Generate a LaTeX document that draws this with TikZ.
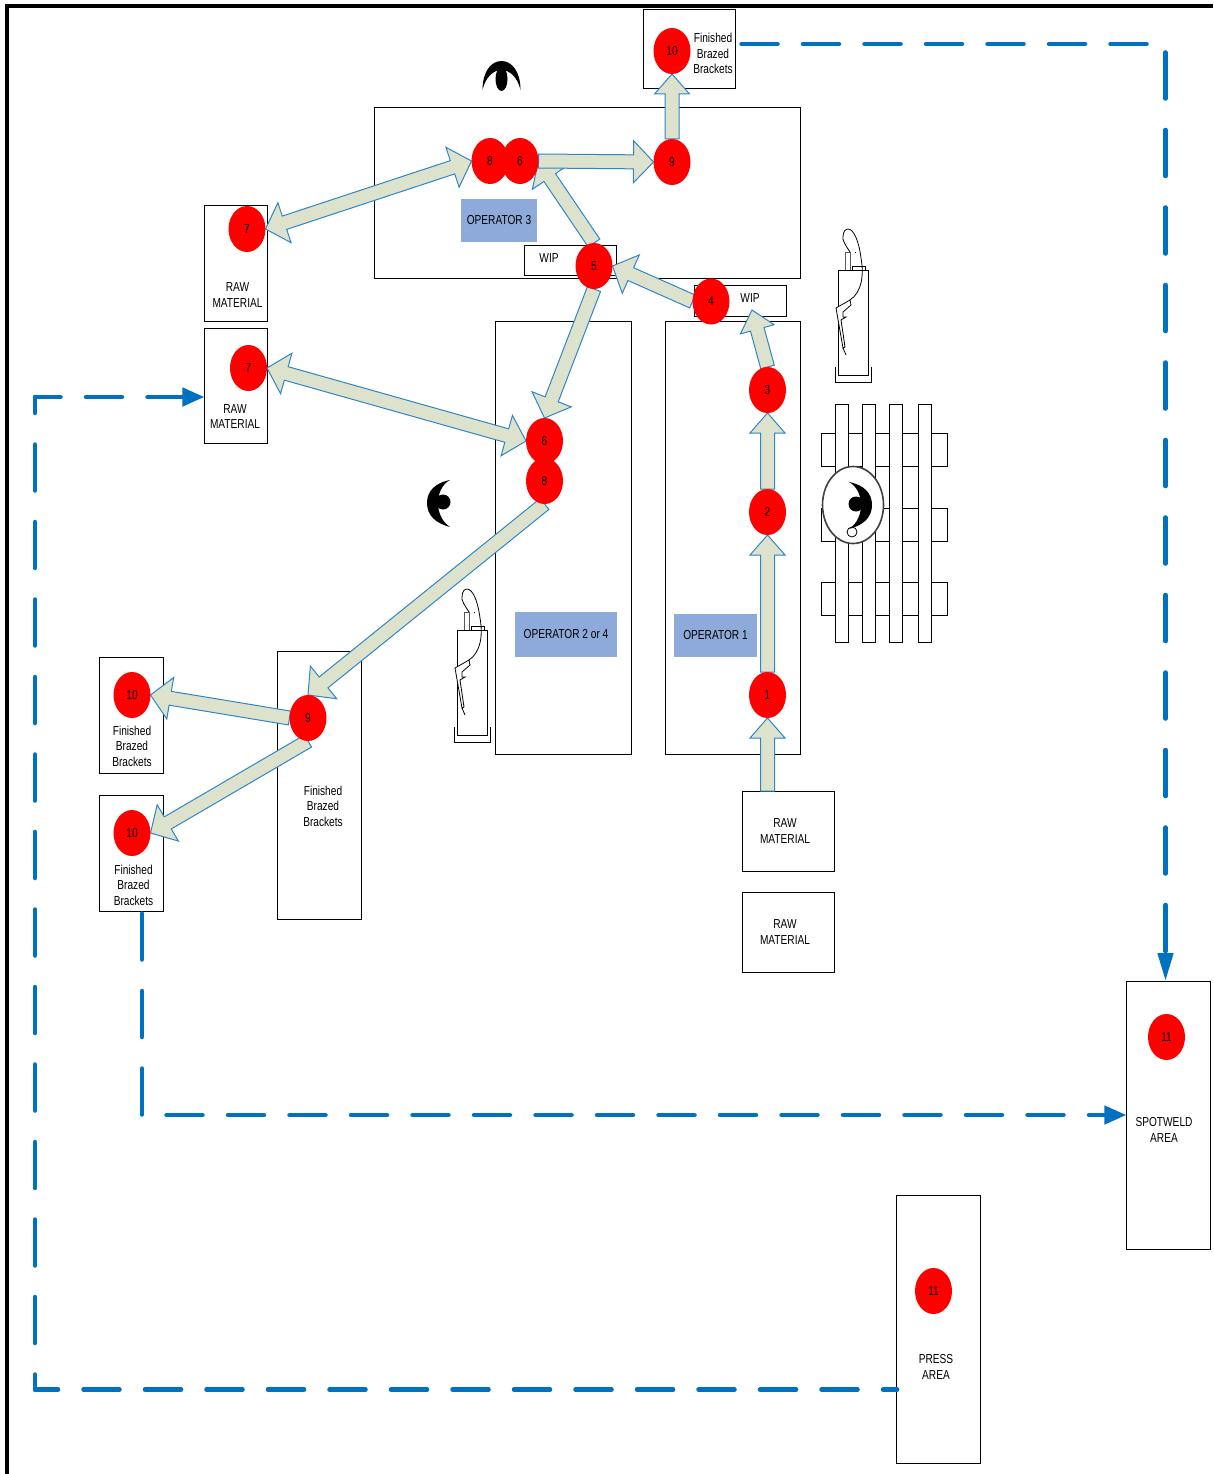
\documentclass[tikz,border=0pt]{standalone}
\usepackage{fontspec}
\setmainfont{Liberation Sans}[FakeStretch=0.78]
\usepackage{xcolor}
\usetikzlibrary{arrows.meta,positioning,calc,shapes.geometric}
\definecolor{flowblue}{HTML}{0070C0}
\definecolor{arrowfill}{HTML}{DDE2CD}
\definecolor{arrowline}{HTML}{2E86C8}
\definecolor{opblue}{HTML}{8EAADB}
\pgfdeclarelayer{floor}
\pgfdeclarelayer{arrows}
\pgfsetlayers{floor,arrows,main}
\tikzset{
  plate/.style={draw,line width=1pt,inner sep=0pt,outer sep=0pt,align=center,font=\fontsize{13}{15.5}\selectfont},
  oplate/.style={fill=opblue,inner sep=0pt,outer sep=0pt,align=center,font=\fontsize{13}{15.5}\selectfont},
  lab/.style={inner sep=0pt,align=center,font=\fontsize{13}{15.5}\selectfont},
  stn/.style={ellipse,fill=red,inner sep=0pt,outer sep=0pt,minimum width=37pt,minimum height=46pt,font=\fontsize{13}{14}\selectfont},
  blockline/.style={draw=arrowline,fill=arrowfill,line width=1pt,line join=miter},
  flowh/.style={flowblue,line width=4.5pt,line cap=round,dash pattern=on 36pt off 25.5pt},
  flowv/.style={flowblue,line width=4.5pt,line cap=round,dash pattern=on 46pt off 31.5pt},
  pics/eyemark/.style={code={
    \fill (-19,13) .. controls (-19,-6) and (-10,-16) .. (0,-16) .. controls (10,-16) and (19,-6) .. (19,13)
      .. controls (16,0) and (8,-7) .. (0,-7) .. controls (-8,-7) and (-16,0) .. (-19,13) -- cycle;
    \fill (0,2) ellipse [x radius=6,y radius=12];
  }},
  pics/eyeside/.style={code={
    \fill (9,-23) .. controls (-6,-20) and (-14,-12) .. (-14,0) .. controls (-14,12) and (-6,20) .. (9,24)
      .. controls (0,18) and (-3,8) .. (-3,0) .. controls (-3,-8) and (0,-18) .. (9,-23) -- cycle;
    \fill (2,-1) circle (7.5);
  }},
  pics/welder/.style={code={
    \draw[line width=1pt] (0,0) rectangle (30,105);
    \draw[line width=1pt] (-3,97) -- (-3,112) -- (33,112) -- (33,97);
    \draw[line width=1pt,gray!70!black] (7,0) -- (7,-18) -- (12,-18) -- (12,0);
    \draw[line width=1pt] (14,-4) rectangle (27,0);
    \draw[line width=.8pt] (12,-18) .. controls (8,-24) and (4,-30) .. (5,-33) .. controls (5,-39) and (8,-41) .. (10,-41)
      .. controls (16,-41) and (21,-28) .. (23,-12) .. controls (26,5) and (24,22) .. (12,30);
    \draw[line width=.8pt,fill=white] (-2,38) -- (12,30) -- (13,35) -- (5,42) -- (5,47) -- (8,47) -- (3,50) -- (7,77) -- (5,78) -- cycle;
    \draw[line width=.8pt] (5,78) -- (8,85);
    \fill (17,-18) rectangle (18,-17.3);
  }}
}
%% block arrow: [head half width]{from}{to}
\newcommand{\blockarr}[3][21]{
  \coordinate (ta) at (#2);\coordinate (tb) at (#3);
  \coordinate (tn) at ($(tb)!20pt!(ta)$);
  \draw[blockline] ($(ta)!7pt!90:(tb)$) -- ($(tn)!7pt!90:(tb)$) -- ($(tn)!#1pt!90:(tb)$) -- (tb)
    -- ($(tn)!#1pt!-90:(tb)$) -- ($(tn)!7pt!-90:(tb)$) -- ($(ta)!7pt!-90:(tb)$) -- cycle;
}
\newcommand{\blockdbl}[3][21]{
  \coordinate (ta) at (#2);\coordinate (tb) at (#3);
  \coordinate (tn) at ($(tb)!20pt!(ta)$);\coordinate (tm) at ($(ta)!20pt!(tb)$);
  \draw[blockline] (ta) -- ($(tm)!#1pt!-90:(tb)$) -- ($(tm)!7pt!-90:(tb)$) -- ($(tn)!7pt!-90:(tb)$) -- ($(tn)!#1pt!-90:(tb)$) -- (tb)
    -- ($(tn)!#1pt!90:(tb)$) -- ($(tn)!7pt!90:(tb)$) -- ($(tm)!7pt!90:(tb)$) -- ($(tm)!#1pt!90:(tb)$) -- cycle;
}
\begin{document}
\begin{tikzpicture}[x=1pt,y=-1pt]
  \useasboundingbox (0,0) rectangle (1213,1474);
  %% outer frame, top and left only
  \draw[line width=4pt] (7,1474) -- (7,6) -- (1213,6);
  %% work tables and bins
  \begin{pgfonlayer}{floor}
  \begin{scope}[xshift=-.6pt]
    \node[plate,minimum width=92pt,minimum height=79pt] (top10) at (690,49.5) {};
    \node[plate,minimum width=426pt,minimum height=170pt] (cell3) at (588,193) {};
    \node[plate,minimum width=92pt,minimum height=30pt] (wip5) at (571,260) {};
    \node[plate,minimum width=92pt,minimum height=31pt] (wip4) at (741,300.5) {};
    \node[plate,minimum width=136pt,minimum height=433pt] (cell2) at (564,537.5) {};
    \node[plate,minimum width=135pt,minimum height=433pt] (cell1) at (733.5,537.5) {};
    \node[plate,minimum width=63pt,minimum height=116pt] (raw7a) at (236.5,263) {};
    \node[plate,minimum width=63pt,minimum height=115pt] (raw7b) at (236.5,385.5) {};
    \node[plate,minimum width=64pt,minimum height=116pt] (fin10a) at (132,715) {};
    \node[plate,minimum width=64pt,minimum height=116pt] (fin10b) at (132,853) {};
    \node[plate,minimum width=84pt,minimum height=268pt] (finmid) at (320,785) {};
    \node[plate,minimum width=92pt,minimum height=80pt] (raw1) at (789,831) {};
    \node[plate,minimum width=92pt,minimum height=80pt] (raw2) at (789,932) {};
    \node[plate,minimum width=84pt,minimum height=268pt] (spot) at (1169,1115) {};
    \node[plate,minimum width=84pt,minimum height=268pt] (press) at (939,1329) {};
  \end{scope}
    \node[oplate,minimum width=76pt,minimum height=43pt] (op3) at (499,220.5) {OPERATOR 3};
    \node[oplate,minimum width=102pt,minimum height=45pt] (op2) at (566,634.5) {OPERATOR 2 or 4};
    \node[oplate,minimum width=83pt,minimum height=43pt] (op1) at (715.5,635.5) {OPERATOR 1};
  \end{pgfonlayer}
  %% box captions
  \node[lab] (tfin1) at (713,53.5) {Finished\\Brazed\\Brackets};
  \node[lab] (twip5) at (549,258) {WIP};
  \node[lab] (twip4) at (750,298.5) {WIP};
  \node[lab] (traw1) at (237.5,295) {RAW\\MATERIAL};
  \node[lab] (traw2) at (235,416.5) {RAW\\MATERIAL};
  \node[lab] (tfin2) at (132,746) {Finished\\Brazed\\Brackets};
  \node[lab] (tfin3) at (133.5,885) {Finished\\Brazed\\Brackets};
  \node[lab] (tfin4) at (323,806) {Finished\\ Brazed\\Brackets};
  \node[lab] (traw3) at (785,831) {RAW\\MATERIAL};
  \node[lab] (traw4) at (785,932) {RAW\\MATERIAL};
  \node[lab] (tspot) at (1164,1130) {SPOTWELD\\AREA};
  \node[lab] (tpress) at (936,1367) {PRESS\\AREA};
  %% stations
  \node[stn] (c10t) at (672,51) {10};
  \node[stn] (c9t) at (672,162) {9};
  \node[stn] (c8t) at (490,161) {8};
  \node[stn] (c6t) at (520,161) {6};
  \node[stn] (c5) at (594,266) {5};
  \node[stn] (c4) at (711,301.5) {4};
  \node[stn] (c3) at (767.5,390) {3};
  \node[stn] (c2) at (767.5,512) {2};
  \node[stn] (c1) at (767.5,695) {1};
  \node[stn] (c6m) at (544.5,441) {6};
  \node[stn] (c8m) at (544.5,481) {8};
  \node[stn] (c9l) at (308,718) {9};
  \node[stn] (c10a) at (132,695) {10};
  \node[stn] (c10b) at (132,833) {10};
  \node[stn] (c7a) at (247,229) {7};
  \node[stn] (c7b) at (248.5,368) {7};
  \node[stn] (c11a) at (1166.5,1037) {11};
  \node[stn] (c11b) at (933.5,1291) {11};
  %% material moves
  \coordinate (wiptip) at (752,310);
  \begin{pgfonlayer}{arrows}
    \blockarr[17.5]{c1 |- raw1.north}{c1.south}
    \blockarr[17.5]{c1.north}{c2.south}
    \blockarr[17.5]{c2.north}{c3.south}
    \blockarr[17.5]{c3.north}{wiptip}
    \blockarr{c4.west}{c5.east}
    \blockarr{c5.north}{c6t.east}
    \blockarr{c6t.east}{c9t.west}
    \blockarr[17.5]{c9t.north}{c10t.south}
    \blockarr{c5.south}{c6m.north}
    \blockarr{c8m.south}{c9l.north}
    \blockarr{c9l.west}{c10a.east}
    \blockarr{c9l.south}{c10b.east}
    \blockdbl{c7a.east}{c8t.west}
    \blockdbl{c7b.east}{c6m.west}
  \end{pgfonlayer}
  %% part flow between areas
  \coordinate (outA) at (737,44);
  \coordinate (turnA) at (1165.5,44);
  \coordinate (outB) at (897,1389.5);
  \coordinate (turnB) at (35,1389.5);
  \coordinate (turnC) at (35,397);
  \coordinate (turnD) at (142,1115);
  \draw[flowh,dash phase=57pt] (outA) -- (turnA);
  \draw[flowv,dash phase=69pt,-{Triangle[length=28pt,width=15pt]}] (turnA) -- (turnA |- spot.north);
  \draw[flowh,dash phase=22pt] (outB) -- (turnB);
  \draw[flowv,dash phase=31pt] (turnB) -- (turnC);
  \draw[flowh,dash phase=10.5pt,-{Triangle[length=22pt,width=18pt]}] (turnC) -- (raw7b.west |- turnC);
  \draw[flowv,dash phase=75pt] (turnD |- fin10b.south) -- (turnD);
  \draw[flowh,dash phase=37pt,-{Triangle[length=22pt,width=18pt]}] (turnD) -- (spot.west |- turnD);
  %% pallet and operators
  \foreach \y in {433,508,582}
    \draw[line width=1pt,fill=white] (821,\y) rectangle (947,\y+33);
  \foreach \x in {835,862,889,918}
    \draw[line width=1pt,fill=white] (\x,404) rectangle (\x+13.5,642);
  \draw[line width=1.6pt,fill=white,draw=black!75] (853,505) ellipse [x radius=30.5,y radius=38.5];
  \draw[line width=.8pt,fill=white] (852,532) circle (5);
  \pic[xscale=-1] at (858,505) {eyeside};
  \pic at (501.5,77) {eyemark};
  \pic at (441,503) {eyeside};
  \pic at (838,270) {welder};
  \pic at (457,630) {welder};
\end{tikzpicture}
\end{document}
